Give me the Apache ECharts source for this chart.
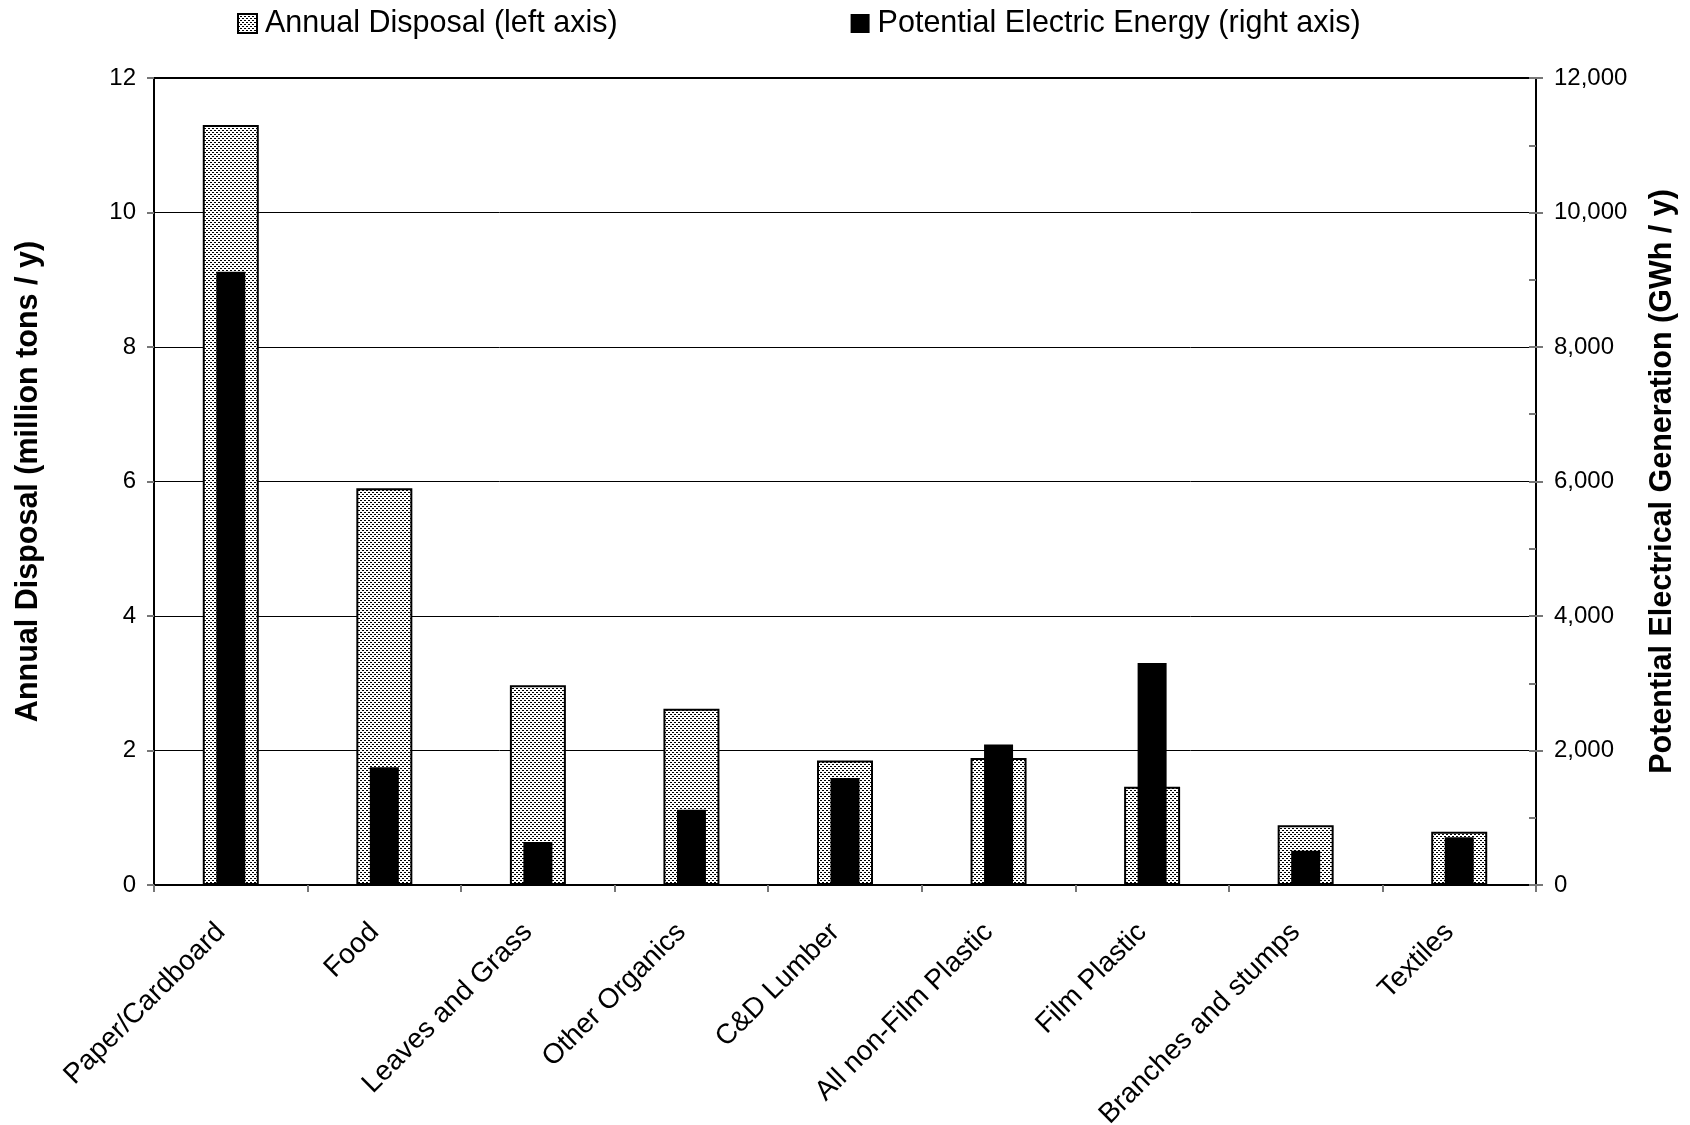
<!DOCTYPE html>
<html>
<head>
<meta charset="utf-8">
<script src="https://cdn.jsdelivr.net/npm/echarts@6/dist/echarts.min.js"></script>
<style>
html,body{margin:0;padding:0;background:#fff;}
#chart{width:1690px;height:1125px;}
</style>
</head>
<body>
<div id="chart"></div>
<script>
const categories = ['Paper/Cardboard','Food','Leaves and Grass','Other Organics','C&D Lumber','All non-Film Plastic','Film Plastic','Branches and stumps','Textiles'];
const annualDisposal = [11.3, 5.9, 2.97, 2.62, 1.85, 1.89, 1.46, 0.89, 0.79];
const electricEnergy = [9120, 1750, 640, 1120, 1590, 2090, 3300, 510, 710];
const leftTicks = {min: 0, max: 12, interval: 2};
const rightTicks = {min: 0, max: 12000, interval: 2000};

// dotted texture
const pc = document.createElement('canvas');
pc.width = 4; pc.height = 4;
const pctx = pc.getContext('2d');
pctx.fillStyle = '#fff'; pctx.fillRect(0,0,4,4);
pctx.fillStyle = '#000';
pctx.fillRect(0,0,2,1);
pctx.fillRect(2,2,2,1);

const FONT = 'Liberation Sans, Arial, sans-serif';
const chart = echarts.init(document.getElementById('chart'), null, {renderer:'canvas'});
chart.setOption({
  animation: false,
  backgroundColor: '#fff',
  textStyle: {fontFamily: FONT, color: '#000'},
  legend: {
    left: 232, top: 3,
    itemWidth: 19, itemHeight: 19, itemGap: 233,
    textStyle: {fontSize: 30.5, color: '#000', fontFamily: FONT, padding: [0,0,0,3]},
    data: [
      {name: 'Annual Disposal (left axis)', icon: 'rect'},
      {name: 'Potential Electric Energy (right axis)', icon: 'rect'}
    ]
  },
  grid: {left: 154, right: 154, top: 78, bottom: 240, outerBoundsMode: 'none', containLabel: false,
    show: true, borderColor: '#000', borderWidth: 2, backgroundColor: 'transparent'},
  xAxis: [{
    type: 'category', data: categories,
    axisLine: {lineStyle: {color: '#000', width: 2}},
    axisTick: {show: true, length: 7, lineStyle: {color: '#777', width: 2}, alignWithLabel: false},
    axisLabel: {interval: 0, rotate: 45, fontSize: 28, color: '#000', margin: 33, fontFamily: FONT, padding: [0,14,0,0]}
  }, {
    type: 'category', data: categories, show: false
  }],
  yAxis: [{
    type: 'value', position: 'left', min: leftTicks.min, max: leftTicks.max, interval: leftTicks.interval,
    name: 'Annual Disposal (million tons / y)', nameLocation: 'middle', nameGap: 110, nameRotate: 90,
    nameTextStyle: {fontSize: 30.5, fontWeight: 'bold', color: '#000', fontFamily: FONT},
    axisLine: {show: true, lineStyle: {color: '#000', width: 2}},
    axisTick: {show: true, length: 7, lineStyle: {color: '#777', width: 2}},
    axisLabel: {fontSize: 24, color: '#000', margin: 18, fontFamily: FONT},
    splitLine: {show: true, lineStyle: {color: '#000', width: 1}}
  }, {
    type: 'value', position: 'right', min: rightTicks.min, max: rightTicks.max, interval: rightTicks.interval,
    name: 'Potential Electrical Generation (GWh / y)', nameLocation: 'middle', nameGap: 111, nameRotate: 90,
    nameTextStyle: {fontSize: 30.5, fontWeight: 'bold', color: '#000', fontFamily: FONT},
    axisLine: {show: true, lineStyle: {color: '#000', width: 2}},
    axisTick: {show: true, length: 7, lineStyle: {color: '#777', width: 2}},
    axisLabel: {fontSize: 24, color: '#000', margin: 18, fontFamily: FONT,
      formatter: v => v.toLocaleString('en-US')},
    splitLine: {show: false}
  }, {
    type: 'value', position: 'right', min: 0, max: 12000, interval: 1000,
    axisLine: {show: false},
    axisTick: {show: true, inside: true, length: 7, lineStyle: {color: '#777', width: 2}},
    axisLabel: {show: false},
    splitLine: {show: false}
  }],
  series: [{
    name: 'Annual Disposal (left axis)', type: 'bar', xAxisIndex: 0, yAxisIndex: 0,
    data: annualDisposal, barWidth: 56,
    itemStyle: {color: {image: pc, repeat: 'repeat'}, borderColor: '#000', borderWidth: 2},
    z: 2
  }, {
    name: 'Potential Electric Energy (right axis)', type: 'bar', xAxisIndex: 1, yAxisIndex: 1,
    data: electricEnergy, barWidth: 29,
    itemStyle: {color: '#000'},
    z: 3
  }]
});
</script>
</body>
</html>
